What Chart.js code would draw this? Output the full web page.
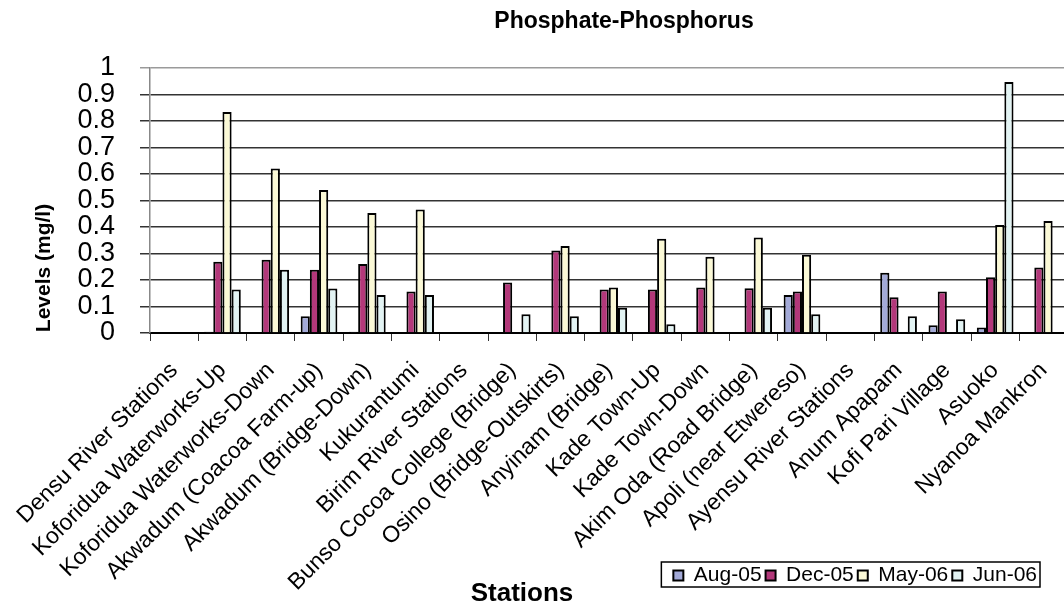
<!DOCTYPE html>
<html>
<head>
<meta charset="utf-8">
<script src="https://cdn.jsdelivr.net/npm/chart.js@4"></script>
<style>
  html, body { margin: 0; padding: 0; background: #fff; overflow: hidden; }
  #wrap { width: 1064px; height: 613px; overflow: hidden; position: relative; }
  canvas { position: absolute; left: 0; top: 0; }
</style>
</head>
<body>
<div id="wrap"><canvas id="chart" width="1079" height="613"></canvas></div>
<script>
// station names along the x axis
const stations = [
    'Densu River Stations', 'Koforidua Waterworks-Up', 'Koforidua Waterworks-Down',
    'Akwadum (Coacoa Farm-up)', 'Akwadum (Bridge-Down)', 'Kukurantumi',
    'Birim River Stations', 'Bunso Cocoa College (Bridge)', 'Osino (Bridge-Outskirts)',
    'Anyinam (Bridge)', 'Kade Town-Up', 'Kade Town-Down', 'Akim Oda (Road Bridge)',
    'Apoli (near Etwereso)', 'Ayensu River Stations', 'Anum Apapam', 'Kofi Pari Village',
    'Asuoko', 'Nyanoa Mankron'
];

// phosphate-phosphorus levels (mg/l)
const aug05 = [null, 0.005, null, 0.063, 0.005, null, null, null, 0.003, null, null, null, null, 0.143, null, 0.227, 0.029, 0.021, null];
const dec05 = [null, 0.269, 0.276, 0.239, 0.260, 0.157, null, 0.191, 0.311, 0.164, 0.164, 0.172, 0.169, 0.157, null, 0.135, 0.157, 0.210, 0.247];
const may06 = [null, 0.834, 0.621, 0.540, 0.453, 0.466, null, null, 0.328, 0.172, 0.356, 0.288, 0.360, 0.295, null, null, null, 0.408, 0.423];
const jun06 = [null, 0.164, 0.239, 0.168, 0.143, 0.143, null, 0.071, 0.063, 0.095, 0.033, null, 0.095, 0.071, null, 0.063, 0.052, 0.947, null];

const seriesNames = ['Aug-05', 'Dec-05', 'May-06', 'Jun-06'];
const seriesColors = ['#a3aad8', '#b3387a', '#fbf9d6', '#e2f3f3'];

// titles, legend frame
const extras = {
    id: 'extras',
    afterLayout(chart) {
        // legend sits in from the (cropped) right edge
        chart.legend.left -= 37;
        chart.legend.right -= 37;
        // let the long rotated station names run past the legend row
        const x = chart.scales.x;
        x.bottom = chart.height;
        x.height = x.bottom - x.top;
    },
    afterDraw(chart) {
        const ctx = chart.ctx;
        ctx.save();
        ctx.fillStyle = '#000';
        ctx.textAlign = 'center';
        ctx.textBaseline = 'middle';

        ctx.font = 'bold 23px "Liberation Sans", Arial, sans-serif';
        ctx.fillText('Phosphate-Phosphorus', 624, 22);

        ctx.font = 'bold 26px "Liberation Sans", Arial, sans-serif';
        ctx.fillText('Stations', 522, 594);

        ctx.translate(44, 268);
        ctx.rotate(-Math.PI / 2);
        ctx.font = 'bold 21px "Liberation Sans", Arial, sans-serif';
        ctx.fillText('Levels (mg/l)', 0, 0);
        ctx.restore();

        const boxes = chart.legend.legendHitBoxes;
        if (boxes && boxes.length) {
            const first = boxes[0];
            const last = boxes[boxes.length - 1];
            ctx.save();
            ctx.strokeStyle = '#000';
            ctx.lineWidth = 1.5;
            ctx.strokeRect(first.left - 12, first.top - 3, last.left + last.width - first.left + 15, first.height + 4);
            ctx.restore();
        }
    }
};

new Chart('chart', {
    type: 'bar',
    data: {
        labels: stations,
        datasets: [aug05, dec05, may06, jun06].map((d, i) => ({
            label: seriesNames[i],
            data: d,
            backgroundColor: seriesColors[i],
            borderColor: '#000',
            borderWidth: 2,
            categoryPercentage: 0.76,
            barPercentage: 1
        }))
    },
    options: {
        responsive: false,
        animation: false,
        devicePixelRatio: 1,
        layout: { padding: { top: 68, left: 0, right: 1, bottom: 17 } },
        plugins: {
            title: { display: false },
            tooltip: { enabled: false },
            legend: {
                position: 'bottom',
                align: 'end',
                labels: {
                    color: '#000',
                    font: { family: '"Liberation Sans", Arial, sans-serif', size: 21 },
                    boxWidth: 10,
                    boxHeight: 10,
                    padding: 4
                }
            }
        },
        scales: {
            x: {
                grid: { drawOnChartArea: false, drawTicks: true, tickLength: 8, color: '#333', lineWidth: 1 },
                border: { color: '#000', width: 2 },
                ticks: {
                    color: '#000',
                    autoSkip: false,
                    minRotation: 45,
                    maxRotation: 45,
                    padding: 16,
                    font: { family: '"Liberation Sans", Arial, sans-serif', size: 23 }
                },
                afterFit(scale) { scale.height = 228; }
            },
            y: {
                min: 0,
                max: 1,
                ticks: {
                    stepSize: 0.1,
                    autoSkip: false,
                    color: '#000',
                    padding: 25,
                    font: { family: '"Liberation Sans", Arial, sans-serif', size: 27, lineHeight: 1 },
                    callback: (v) => String(Number(v.toFixed(1)))
                },
                grid: {
                    color: (c) => c.tick && c.tick.value === 1 ? '#9a9a9a' : '#333',
                    lineWidth: 1.5,
                    tickLength: 10
                },
                border: { color: '#888', width: 1.5 },
                afterFit(scale) { scale.width = 150; }
            }
        }
    },
    plugins: [extras]
});
</script>
</body>
</html>
